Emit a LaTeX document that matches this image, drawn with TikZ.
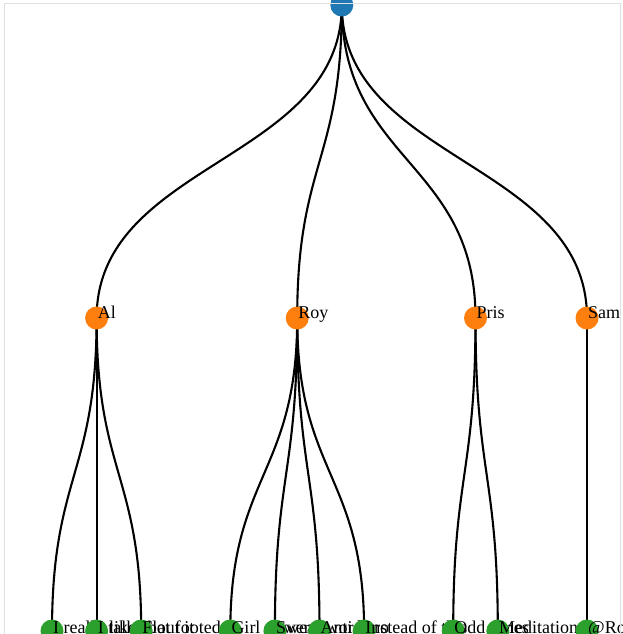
\documentclass[tikz,border=0pt]{standalone}
\usepackage{fontspec}
\setmainfont{Liberation Serif}
\usepackage{xcolor}
\usepackage{tikz}
\usetikzlibrary{positioning,backgrounds}
\definecolor{rootblue}{HTML}{1F77B4}
\definecolor{midorange}{HTML}{FF7F0E}
\definecolor{leafgreen}{HTML}{2CA02C}
\definecolor{framegray}{RGB}{225,225,225}

\begin{document}
\begin{tikzpicture}[
  x=1pt, y=-1pt,
  dot/.style={circle, inner sep=0pt, minimum size=23pt},
  rootdot/.style={dot, fill=rootblue},
  middot/.style={dot, fill=midorange},
  leafdot/.style={dot, fill=leafgreen},
  txt/.style={anchor=base west, inner sep=0pt, xshift=1pt,
    font=\fontsize{18}{21}\selectfont},
  leaftxt/.style={txt, yshift=-2pt},
  link/.style={line width=2.1pt, black},
]
\useasboundingbox (0,0) rectangle (623,634);
\clip (0,0) rectangle (623,634);
% root
\node[rootdot] (root) at (341.8,5) {};
% second level
\node[middot] (al) at (96.6,318) {};
\node[txt] (al-t) at (al.center) {Al};
\node[middot] (roy) at (297.2,318) {};
\node[txt] (roy-t) at (roy.center) {Roy};
\node[middot] (pris) at (475.5,318) {};
\node[txt] (pris-t) at (pris.center) {Pris};
\node[middot] (sam) at (587,318) {};
\node[txt] (sam-t) at (sam.center) {Sam};
% leaves
\node[leafdot] (l1) at (52,631) {};
\node[leaftxt] (l1-t) at (l1.center) {I really like it};
\node[leafdot] (l2) at (96.6,631) {};
\node[leaftxt] (l2-t) at (l2.center) {I talk about it};
\node[leafdot] (l3) at (141.2,631) {};
\node[leaftxt] (l3-t) at (l3.center) {Flat footed};
\node[leafdot] (l4) at (230.3,631) {};
\node[leaftxt] (l4-t) at (l4.center) {Girl power};
\node[leafdot] (l5) at (274.9,631) {};
\node[leaftxt] (l5-t) at (l5.center) {Swear words};
\node[leafdot] (l6) at (319.5,631) {};
\node[leaftxt] (l6-t) at (l6.center) {Anti hero};
\node[leafdot] (l7) at (364.1,631) {};
\node[leaftxt] (l7-t) at (l7.center) {Instead of this};
\node[leafdot] (l8) at (453.2,631) {};
\node[leaftxt] (l8-t) at (l8.center) {Odd times};
\node[leafdot] (l9) at (497.8,631) {};
\node[leaftxt] (l9-t) at (l9.center) {Meditation};
\node[leafdot] (l10) at (587,631) {};
\node[leaftxt] (l10-t) at (l10.center) {@Roy};
% links
\begin{scope}[on background layer]
\draw[link] (root.center) .. controls +(0,156.5) and +(0,-156.5) .. (al.center);
\draw[link] (root.center) .. controls +(0,156.5) and +(0,-156.5) .. (roy.center);
\draw[link] (root.center) .. controls +(0,156.5) and +(0,-156.5) .. (pris.center);
\draw[link] (root.center) .. controls +(0,156.5) and +(0,-156.5) .. (sam.center);
\draw[link] (al.center) .. controls +(0,156.5) and +(0,-156.5) .. (l1.center);
\draw[link] (al.center) .. controls +(0,156.5) and +(0,-156.5) .. (l2.center);
\draw[link] (al.center) .. controls +(0,156.5) and +(0,-156.5) .. (l3.center);
\draw[link] (roy.center) .. controls +(0,156.5) and +(0,-156.5) .. (l4.center);
\draw[link] (roy.center) .. controls +(0,156.5) and +(0,-156.5) .. (l5.center);
\draw[link] (roy.center) .. controls +(0,156.5) and +(0,-156.5) .. (l6.center);
\draw[link] (roy.center) .. controls +(0,156.5) and +(0,-156.5) .. (l7.center);
\draw[link] (pris.center) .. controls +(0,156.5) and +(0,-156.5) .. (l8.center);
\draw[link] (pris.center) .. controls +(0,156.5) and +(0,-156.5) .. (l9.center);
\draw[link] (sam.center) .. controls +(0,156.5) and +(0,-156.5) .. (l10.center);
\end{scope}
% frame
\draw[framegray, line width=1.5pt] (4.5,3.5) rectangle (620.5,645);
\end{tikzpicture}
\end{document}
